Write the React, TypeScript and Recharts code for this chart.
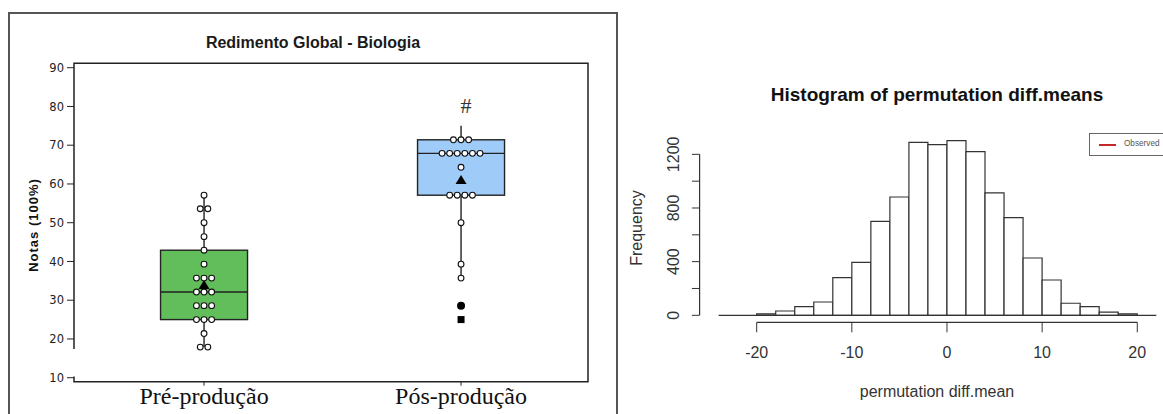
import React from 'react'
import {
  ComposedChart,
  BarChart,
  Bar,
  Scatter,
  XAxis,
  YAxis,
  ReferenceArea,
  ReferenceLine,
} from 'recharts'

// ---------- left panel: box plot (Minitab style) ----------
const groups = ['Pré-produção', 'Pós-produção']
const groupPos = [1, 2]
const boxFill = ['#62be5a', '#9fcbf8']
const q1 = [25, 57.1]
const median = [32.1, 67.9]
const q3 = [42.9, 71.4]
const whiskerLow = [17.9, 35.7]
const whiskerHigh = [57.1, 75]
const means = [33.9, 61]

const preScores = [
  57.1, 53.6, 53.6, 50, 46.4, 42.9, 39.3, 35.7, 35.7, 35.7, 32.1, 32.1, 32.1,
  28.6, 28.6, 28.6, 25, 25, 25, 21.4, 17.9, 17.9,
]
const posScores = [
  71.4, 71.4, 71.4, 67.9, 67.9, 67.9, 67.9, 67.9, 67.9, 64.3, 57.1, 57.1, 57.1,
  57.1, 50, 39.3, 35.7,
]
const posFilledCircle = [28.6]
const posFilledSquare = [25]
const posHashMark = [80]

const boxTicks = [10, 20, 30, 40, 50, 60, 70, 80, 90]
const BOX_Y_DOMAIN: [number, number] = [8.97, 91.14]
const BOX_X_DOMAIN: [number, number] = [0.494, 2.494]

// ---------- right panel: histogram ----------
const BIN_WIDTH = 2
const binStart = [-20, -18, -16, -14, -12, -10, -8, -6, -4, -2, 0, 2, 4, 6, 8, 10, 12, 14, 16, 18]
const binCounts = [10, 32, 65, 99, 281, 395, 700, 882, 1289, 1272, 1302, 1220, 912, 728, 427, 263, 90, 65, 24, 10]
const histXTicks = [-20, -10, 0, 10, 20]
const histYTicks = [0, 200, 400, 600, 800, 1000, 1200]
const histYLabels = [0, 400, 800, 1200]
const HIST_X_DOMAIN: [number, number] = [-26, 22]
const HIST_Y_DOMAIN: [number, number] = [-52.2, 1400]
const BASELINE_X: [number, number] = [-24, 22]

const SANS = "'Liberation Sans', Arial, sans-serif"
const SERIF = "'Liberation Serif', 'Times New Roman', serif"
const DOT_GAP = 7.6

const boxData = groups.map((name, i) => ({
  name,
  pos: groupPos[i],
  box: [q1[i], q3[i]],
  whisker: [whiskerLow[i], whiskerHigh[i]],
  median: median[i],
  fill: boxFill[i],
}))

function dotRows(values: number[], pos: number) {
  const counts: Record<string, number> = {}
  values.forEach(v => { counts[v] = (counts[v] || 0) + 1 })
  const seen: Record<string, number> = {}
  return values.map(v => {
    const k = seen[v] || 0
    seen[v] = k + 1
    return { pos, v, slot: k - (counts[v] - 1) / 2 }
  })
}

const dots = [...dotRows(preScores, groupPos[0]), ...dotRows(posScores, groupPos[1])]
const meanPoints = means.map((v, i) => ({ pos: groupPos[i], v }))
const circlePoints = posFilledCircle.map(v => ({ pos: groupPos[1], v }))
const squarePoints = posFilledSquare.map(v => ({ pos: groupPos[1], v }))
const hashPoints = posHashMark.map(v => ({ pos: groupPos[1], v }))

const histData = binStart.map((s, i) => ({ mid: s + BIN_WIDTH / 2, count: binCounts[i] }))

function WhiskerShape(p: any) {
  const cx = p.x + p.width / 2
  const top = Math.min(p.y, p.y + p.height)
  return <line x1={cx} x2={cx} y1={top} y2={top + Math.abs(p.height)} stroke="#111" strokeWidth={1.3} />
}

function BoxShape(p: any) {
  const top = Math.min(p.y, p.y + p.height)
  const h = Math.abs(p.height)
  const [lo, hi] = p.payload.box
  const my = top + (h * (hi - p.payload.median)) / (hi - lo)
  return (
    <g>
      <rect x={p.x} y={top} width={p.width} height={h} fill={p.payload.fill} stroke="#222" strokeWidth={1.4} />
      <line x1={p.x} x2={p.x + p.width} y1={my} y2={my} stroke="#222" strokeWidth={1.4} />
    </g>
  )
}

function DotShape(p: any) {
  return <circle cx={p.cx + p.payload.slot * DOT_GAP} cy={p.cy} r={2.9} fill="#fff" stroke="#111" strokeWidth={1.1} />
}

function TriangleShape(p: any) {
  const { cx, cy } = p
  return <polygon points={`${cx},${cy - 5} ${cx - 5.5},${cy + 4} ${cx + 5.5},${cy + 4}`} fill="#000" />
}

function FilledCircle(p: any) {
  return <circle cx={p.cx} cy={p.cy} r={4} fill="#000" />
}

function FilledSquare(p: any) {
  return <rect x={p.cx - 3.5} y={p.cy - 3.5} width={7} height={7} fill="#000" />
}

function HashShape(p: any) {
  return (
    <text x={p.cx + 5} y={p.cy + 7} textAnchor="middle" fontFamily={SERIF} fontSize={22} fill="#333">#</text>
  )
}

function HistYTick(p: any) {
  const v = p.payload.value
  if (!histYLabels.includes(v)) return null
  return (
    <text x={p.x} y={p.y} transform={`rotate(-90, ${p.x}, ${p.y})`} textAnchor="middle"
      fontFamily={SANS} fontSize={16} fill="#333">
      {v}
    </text>
  )
}

const abs = (left: number, top: number): React.CSSProperties => ({
  position: 'absolute', left, top, transform: 'translate(-50%, -50%)', whiteSpace: 'nowrap', lineHeight: 1,
})

export default function App() {
  return (
    <div style={{ position: 'absolute', left: 0, top: 0, width: 1163, height: 414, overflow: 'hidden', background: '#fff' }}>
      {/* left panel frame */}
      <div style={{ position: 'absolute', left: 8, top: 12, width: 610, height: 430, border: '2px solid #555', boxSizing: 'border-box' }} />

      <div style={{ ...abs(313, 42.7), fontFamily: SANS, fontWeight: 700, fontSize: 16, color: '#1a1a1a' }}>
        Redimento Global - Biologia
      </div>
      <div style={{ ...abs(33, 225), transform: 'translate(-50%, -50%) rotate(-90deg)', fontFamily: SANS, fontWeight: 700, fontSize: 13, letterSpacing: 1, color: '#111' }}>
        Notas (100%)
      </div>

      <div style={{ position: 'absolute', left: 0, top: 0 }}>
        <ComposedChart width={620} height={414} data={boxData} barGap={-87}
          margin={{ top: 63.3, right: 32, bottom: 2.3, left: 34 }}>
          <ReferenceArea x1={BOX_X_DOMAIN[0]} x2={BOX_X_DOMAIN[1]} y1={BOX_Y_DOMAIN[0]} y2={BOX_Y_DOMAIN[1]}
            fill="none" fillOpacity={0} stroke="#222" strokeWidth={1.5} ifOverflow="visible" />
          <XAxis type="number" dataKey="pos" domain={BOX_X_DOMAIN} ticks={groupPos} interval={0}
            tickFormatter={(v: number) => groups[groupPos.indexOf(v)] ?? ''}
            axisLine={false} tickSize={4} tickMargin={1} height={30}
            tickLine={{ stroke: '#222' }}
            tick={{ fontFamily: SERIF, fontSize: 24, fill: '#111' }} />
          <YAxis type="number" domain={BOX_Y_DOMAIN} ticks={boxTicks} interval={0}
            axisLine={false} tickSize={7} tickMargin={3} width={40}
            tickLine={{ stroke: '#222' }}
            tick={{ fontFamily: "'DejaVu Sans', sans-serif", fontSize: 11.5, fill: '#222' }} />
          <Bar dataKey="whisker" barSize={87} shape={WhiskerShape} isAnimationActive={false} />
          <Bar dataKey="box" barSize={87} shape={BoxShape} isAnimationActive={false} />
          <Scatter data={dots} dataKey="v" shape={DotShape} isAnimationActive={false} />
          <Scatter data={meanPoints} dataKey="v" shape={TriangleShape} isAnimationActive={false} />
          <Scatter data={circlePoints} dataKey="v" shape={FilledCircle} isAnimationActive={false} />
          <Scatter data={squarePoints} dataKey="v" shape={FilledSquare} isAnimationActive={false} />
          <Scatter data={hashPoints} dataKey="v" shape={HashShape} isAnimationActive={false} />
          <ReferenceArea x1={BOX_X_DOMAIN[0]} x2={1.5} y1={10.7} y2={17.0}
            fill="#fff" fillOpacity={1} stroke="#fff" strokeWidth={3} ifOverflow="visible" />
        </ComposedChart>
      </div>

      {/* right panel */}
      <div style={{ ...abs(937, 94), fontFamily: SANS, fontWeight: 700, fontSize: 19, color: '#111' }}>
        Histogram of permutation diff.means
      </div>
      <div style={{ ...abs(636.5, 228.3), transform: 'translate(-50%, -50%) rotate(-90deg)', fontFamily: SANS, fontSize: 16, color: '#333' }}>
        Frequency
      </div>
      <div style={{ ...abs(937, 391.5), fontFamily: SANS, fontSize: 16, color: '#333' }}>
        permutation diff.mean
      </div>

      <div style={{ position: 'absolute', left: 600, top: 0 }}>
        <BarChart width={563} height={414} data={histData} barCategoryGap={0}
          margin={{ top: 127.5, right: 6.7, bottom: 31.7, left: 39.6 }}>
          <XAxis type="number" dataKey="mid" domain={HIST_X_DOMAIN} ticks={histXTicks} interval={0}
            axisLine={false} tickSize={10} tickMargin={14.8} height={60}
            tickLine={{ stroke: '#333' }}
            tick={{ fontFamily: SANS, fontSize: 16, fill: '#333' }} />
          <YAxis type="number" domain={HIST_Y_DOMAIN} ticks={histYTicks} interval={0}
            axisLine={false} tickSize={7.7} tickMargin={13.2} width={60}
            tickLine={{ stroke: '#333' }} tick={HistYTick} />
          <Bar dataKey="count" fill="#fff" stroke="#333" strokeWidth={1.2} isAnimationActive={false} />
          <ReferenceLine segment={[{ x: HIST_X_DOMAIN[0], y: 0 }, { x: HIST_X_DOMAIN[0], y: histYTicks[histYTicks.length - 1] }]}
            stroke="#333" strokeWidth={1.2} ifOverflow="visible" />
          <ReferenceLine segment={[{ x: histXTicks[0], y: HIST_Y_DOMAIN[0] }, { x: histXTicks[histXTicks.length - 1], y: HIST_Y_DOMAIN[0] }]}
            stroke="#333" strokeWidth={1.2} ifOverflow="visible" />
          <ReferenceLine segment={[{ x: BASELINE_X[0], y: 0 }, { x: BASELINE_X[1], y: 0 }]}
            stroke="#333" strokeWidth={1.2} ifOverflow="visible" />
        </BarChart>
      </div>

      {/* legend box, running off the right edge as in the source */}
      <div style={{ position: 'absolute', left: 1089, top: 133, width: 100, height: 23, border: '1px solid #666', boxSizing: 'border-box', background: '#fff' }}>
        <div style={{ position: 'absolute', left: 9, top: 10, width: 17, height: 2, background: '#c62828' }} />
        <div style={{ position: 'absolute', left: 34, top: 6, fontFamily: SANS, fontSize: 8.2, color: '#555', lineHeight: 1 }}>
          Observed
        </div>
      </div>
    </div>
  )
}
